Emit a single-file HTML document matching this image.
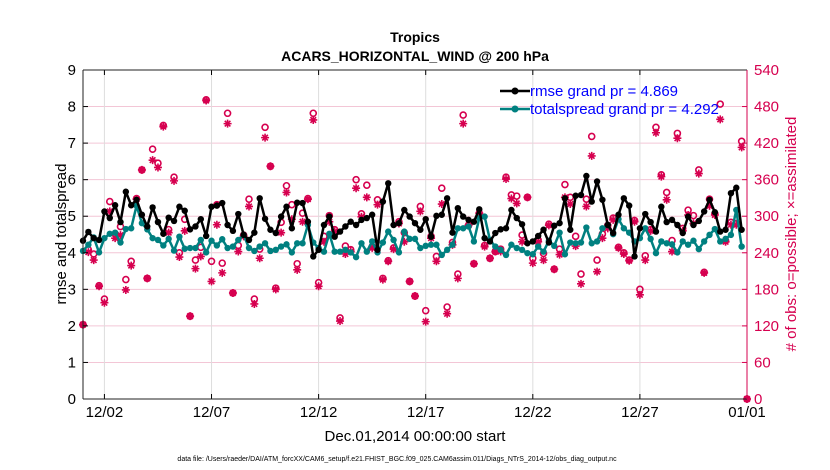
<!DOCTYPE html>
<html><head><meta charset="utf-8"><style>
body{margin:0;background:#fff;}
svg{display:block;font-family:"Liberation Sans",sans-serif;}
</style></head><body>
<svg id="chart" width="830" height="470" viewBox="0 0 830 470" xmlns="http://www.w3.org/2000/svg">
<rect width="830" height="470" fill="#fff"/>
<text x="415" y="42" text-anchor="middle" font-size="14" font-weight="bold">Tropics</text>
<text x="415" y="61" text-anchor="middle" font-size="14" font-weight="bold">ACARS_HORIZONTAL_WIND @ 200 hPa</text>
<g id="grid"></g>
<g id="obs"></g>
<g id="lines"></g>
<g id="axes"></g>
<text transform="translate(66,234) rotate(-90)" text-anchor="middle" font-size="15">rmse and totalspread</text>
<text transform="translate(796,234) rotate(-90)" text-anchor="middle" font-size="15" fill="#d6004f"># of obs: o=possible; ×=assimilated</text>
<text x="415" y="441" text-anchor="middle" font-size="15">Dec.01,2014 00:00:00 start</text>
<text x="397" y="461" text-anchor="middle" font-size="7">data file: /Users/raeder/DAI/ATM_forcXX/CAM6_setup/f.e21.FHIST_BGC.f09_025.CAM6assim.011/Diags_NTrS_2014-12/obs_diag_output.nc</text>
<g>
<line x1="500" y1="91" x2="530" y2="91" stroke="#000" stroke-width="2.5"/><circle cx="515" cy="91" r="3.5" fill="#000"/>
<text x="530" y="96" font-size="15" fill="#0000ff">rmse grand pr = 4.869</text>
<line x1="500" y1="109" x2="530" y2="109" stroke="#008080" stroke-width="2.5"/><circle cx="515" cy="109" r="3.5" fill="#008080"/>
<text x="530" y="114" font-size="15" fill="#0000ff">totalspread grand pr = 4.292</text>
</g>
</svg>
<script>
const rmse=[4.33,4.57,4.4,4.35,5.13,4.95,5.3,4.84,5.67,5.3,5.45,5.04,4.72,5.24,4.84,4.52,4.96,4.87,5.26,5.15,4.64,4.72,4.92,4.46,5.26,5.29,5.36,4.76,4.6,5.06,4.49,4.35,4.55,5.49,4.93,4.63,4.54,4.99,5.26,4.67,5.37,5.36,4.85,3.9,4.08,4.76,4.99,4.44,4.58,4.72,4.85,4.76,4.9,4.95,5.04,4.08,5.4,5.9,4.76,4.81,5.17,4.99,4.81,4.63,4.92,4.44,5.01,5.04,5.49,4.55,5.22,4.99,4.9,4.85,5.19,4.4,4.31,4.54,4.64,4.67,5.17,4.95,4.78,4.26,4.31,4.46,4.63,4.28,4.74,4.81,5.49,4.63,5.56,5.58,6.1,5.4,5.95,5.45,4.76,4.54,5.04,5.49,5.29,3.9,4.67,5.06,4.84,4.58,5.26,4.84,4.9,4.76,4.54,4.99,4.76,4.87,5.13,5.45,5.11,4.58,4.63,5.63,5.78,4.63];
const spread=[4.05,4.22,4.42,4.01,4.40,4.52,4.55,4.28,4.65,4.67,5.29,4.81,4.64,4.40,4.35,4.20,4.38,4.06,4.44,4.11,4.13,4.13,4.35,4.01,4.33,4.20,4.37,4.13,4.17,4.35,4.49,4.13,4.05,4.17,4.26,4.05,4.08,4.17,4.23,4.01,4.26,4.26,4.76,4.28,4.13,4.03,4.52,4.03,4.03,4.08,4.01,3.88,4.26,4.03,4.31,4.01,4.28,4.58,4.35,4.01,4.58,4.38,4.38,4.13,4.19,4.22,4.22,3.94,4.08,4.22,4.67,4.67,4.72,4.31,4.95,4.99,4.35,4.17,4.08,3.94,4.22,4.13,4.08,3.99,3.96,4.17,4.03,4.33,4.19,4.55,3.96,4.28,4.26,4.28,4.69,4.26,4.31,4.67,4.76,4.51,4.92,4.67,4.55,4.31,4.40,4.67,4.38,3.99,4.31,4.26,4.23,4.01,4.31,4.22,4.33,4.10,4.31,4.49,4.65,4.31,4.38,4.49,5.17,4.17];
const obsPossible=[122,245,238,186,164,324,271,283,196,226,329,376,198,410,387,449,278,364,240,295,136,228,249,491,226,319,223,469,174,252,269,328,164,246,446,382,182,290,350,319,222,305,329,469,191,267,301,278,133,251,245,360,304,351,250,327,198,227,248,291,273,193,169,316,145,267,234,346,151,257,205,466,285,222,305,252,231,242,246,364,335,333,269,331,231,261,239,287,213,246,352,331,267,205,328,431,228,271,285,297,249,240,228,293,180,235,278,446,368,339,260,436,280,310,301,376,208,328,304,484,260,290,288,423,0];
const obsAssim=[122,241,228,185,158,308,264,269,179,219,328,376,198,392,380,447,273,358,233,276,136,214,234,490,193,286,207,452,174,242,267,316,156,231,429,382,180,273,339,295,212,291,328,458,185,258,291,275,128,238,242,346,299,331,248,319,196,226,246,288,258,193,169,308,127,264,226,320,140,253,198,452,285,222,305,250,231,242,242,361,329,321,258,331,223,258,228,285,213,237,331,320,251,189,316,399,209,264,280,294,248,238,227,291,171,228,276,437,365,327,242,428,276,302,288,370,207,317,302,459,258,286,286,413,0];
const yTicks=[0,1,2,3,4,5,6,7,8,9];
const y2Ticks=[0,60,120,180,240,300,360,420,480,540];
const xTickDays=[1,6,11,16,21,26,31];
const xTickLabels=['12/02','12/07','12/12','12/17','12/22','12/27','01/01'];
const stepDays=0.25;

const L=83,R=747,T=70,B=399,NS="http://www.w3.org/2000/svg";
const X=d=>L+d/31*(R-L);
const Y=v=>B-v/9*(B-T);
const Y2=v=>B-v/540*(B-T);
const MAG="#d6004f";
function mk(tag,attrs,parent){const e=document.createElementNS(NS,tag);for(const k in attrs)e.setAttribute(k,attrs[k]);parent.appendChild(e);return e;}
const grid=document.getElementById('grid'),axes=document.getElementById('axes'),obsG=document.getElementById('obs'),linesG=document.getElementById('lines');
y2Ticks.forEach((v,i)=>{
  if(v>0&&v<540){const g=mk('line',{x1:L,x2:R,y1:Y2(v),y2:Y2(v),stroke:'#f3c6d6','stroke-width':1},grid);
  
  }
  const t=mk('text',{x:R+7,y:Y2(v)+5,'font-size':15,fill:MAG},axes);t.textContent=v;
  
  
  mk('line',{x1:R,x2:R-5,y1:Y2(v),y2:Y2(v),stroke:MAG},axes);
});
yTicks.forEach(v=>{
  const t=mk('text',{x:L-7,y:Y(v)+5,'font-size':15,'text-anchor':'end'},axes);t.textContent=v;
  
  
  mk('line',{x1:L,x2:L+5,y1:Y(v),y2:Y(v),stroke:'#000'},axes);
});
xTickDays.forEach((d,i)=>{
  if(d<31){const g=mk('line',{x1:X(d),x2:X(d),y1:T,y2:B,stroke:'#ddd'},grid);
  
  }
  mk('line',{x1:X(d),x2:X(d),y1:B,y2:B-5,stroke:'#000'},axes);
  mk('line',{x1:X(d),x2:X(d),y1:T,y2:T+5,stroke:'#000'},axes);
  const t=mk('text',{x:X(d),y:417,'font-size':15,'text-anchor':'middle'},axes);t.textContent=xTickLabels[i];
  
  
});
mk('line',{x1:L,x2:R,y1:T,y2:T,stroke:'#222'},axes);
mk('line',{x1:L,x2:R,y1:B,y2:B,stroke:'#222'},axes);
mk('line',{x1:L,x2:L,y1:T,y2:B,stroke:'#222'},axes);
mk('line',{x1:R,x2:R,y1:T,y2:B,stroke:MAG},axes);
obsPossible.forEach((v,i)=>{
  const c=mk('circle',{cx:X(i*stepDays),cy:Y2(v),r:3,fill:'none',stroke:MAG,'stroke-width':1.6},obsG);
  
  
});
obsAssim.forEach((v,i)=>{
  const x=X(i*stepDays),y=Y2(v),r=4;
  const p=mk('path',{d:`M${x-r},${y}H${x+r}M${x},${y-r}V${y+r}M${x-2.8},${y-2.8}L${x+2.8},${y+2.8}M${x-2.8},${y+2.8}L${x+2.8},${y-2.8}`,stroke:MAG,'stroke-width':1.6},obsG);
  
  
});
function series(arr,color,name){
  const pts=arr.map((v,i)=>X(i*stepDays)+','+Y(v)).join(' ');
  const pl=mk('polyline',{points:pts,fill:'none',stroke:color,'stroke-width':2.5,'stroke-linejoin':'round'},linesG);
  
  
  arr.forEach((v,i)=>{const c=mk('circle',{cx:X(i*stepDays),cy:Y(v),r:3.2,fill:color},linesG);
    
    });
}
series(spread,'#008080','totalspread');
series(rmse,'#000','rmse');
</script>
</body></html>
